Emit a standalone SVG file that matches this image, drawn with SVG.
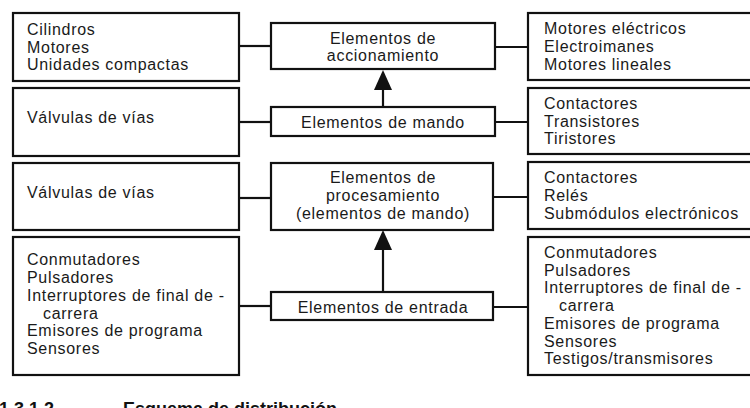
<svg xmlns="http://www.w3.org/2000/svg" width="750" height="408" viewBox="0 0 750 408">
<style>
.box{fill:#fff;stroke:#111;stroke-width:2.2}
.t{font-family:"Liberation Sans",Arial,sans-serif;font-size:16px;letter-spacing:0.7px;fill:#1a1a1a}
.c{text-anchor:middle}
.cap{font-family:"Liberation Sans",Arial,sans-serif;font-size:18px;font-weight:bold;fill:#111}
.ln{stroke:#111;stroke-width:2.2;fill:none}
.ah{fill:#111}
</style>
<rect width="750" height="408" fill="#fff"/>
<g id="connectors">
<line class="ln" x1="239" y1="46" x2="271" y2="46"/>
<line class="ln" x1="239" y1="122" x2="271" y2="122"/>
<line class="ln" x1="239" y1="198" x2="271" y2="198"/>
<line class="ln" x1="239" y1="306" x2="271" y2="306"/>
<line class="ln" x1="495" y1="47" x2="528" y2="47"/>
<line class="ln" x1="495" y1="122" x2="528" y2="122"/>
<line class="ln" x1="493" y1="197" x2="528" y2="197"/>
<line class="ln" x1="493" y1="307" x2="528" y2="307"/>
<line class="ln" x1="383" y1="107" x2="383" y2="88"/>
<polygon class="ah" points="383,70 374,90 392,90"/>
<line class="ln" x1="383" y1="292" x2="383" y2="248"/>
<polygon class="ah" points="383,230 374,250 392,250"/>
</g>
<g id="left1"><rect class="box" x="13" y="13" width="226" height="68"/>
<text class="t" x="27" y="35">Cilindros</text><text class="t" x="27" y="52.5">Motores</text><text class="t" x="27" y="70">Unidades compactas</text></g>
<g id="left2"><rect class="box" x="13" y="88" width="226" height="68"/>
<text class="t" x="27" y="123">Válvulas de vías</text></g>
<g id="left3"><rect class="box" x="13" y="163" width="226" height="67"/>
<text class="t" x="27" y="198">Válvulas de vías</text></g>
<g id="left4"><rect class="box" x="13" y="237" width="226" height="138"/>
<text class="t" x="27" y="265">Conmutadores</text><text class="t" x="27" y="283">Pulsadores</text><text class="t" x="27" y="301">Interruptores de final de -</text><text class="t" x="43" y="318.5">carrera</text><text class="t" x="27" y="336">Emisores de programa</text><text class="t" x="27" y="354">Sensores</text></g>
<g id="center1"><rect class="box" x="271" y="23" width="224" height="46"/>
<text class="t c" x="383" y="44">Elementos de</text><text class="t c" x="383" y="61">accionamiento</text></g>
<g id="center2"><rect class="box" x="271" y="107" width="224" height="29"/>
<text class="t c" x="383" y="128">Elementos de mando</text></g>
<g id="center3"><rect class="box" x="271" y="163" width="222" height="67"/>
<text class="t c" x="383" y="183">Elementos de</text><text class="t c" x="383" y="201">procesamiento</text><text class="t c" x="383" y="219">(elementos de mando)</text></g>
<g id="center4"><rect class="box" x="271" y="292" width="222" height="28"/>
<text class="t c" x="383" y="313">Elementos de entrada</text></g>
<g id="right1"><rect class="box" x="528" y="13" width="232" height="67"/>
<text class="t" x="544" y="34">Motores eléctricos</text><text class="t" x="544" y="52">Electroimanes</text><text class="t" x="544" y="69.5">Motores lineales</text></g>
<g id="right2"><rect class="box" x="528" y="88" width="232" height="66"/>
<text class="t" x="544" y="109">Contactores</text><text class="t" x="544" y="126.5">Transistores</text><text class="t" x="544" y="144">Tiristores</text></g>
<g id="right3"><rect class="box" x="528" y="162" width="232" height="67"/>
<text class="t" x="544" y="183">Contactores</text><text class="t" x="544" y="201">Relés</text><text class="t" x="544" y="218.5">Submódulos electrónicos</text></g>
<g id="right4"><rect class="box" x="528" y="237" width="232" height="138"/>
<text class="t" x="544" y="258">Conmutadores</text><text class="t" x="544" y="275.5">Pulsadores</text><text class="t" x="544" y="293">Interruptores de final de -</text><text class="t" x="559" y="311">carrera</text><text class="t" x="544" y="329">Emisores de programa</text><text class="t" x="544" y="346.5">Sensores</text><text class="t" x="544" y="364">Testigos/transmisores</text></g>
<g id="caption"><text class="cap" x="-1" y="415">1.3.1.2</text><text class="cap" x="123" y="415">Esquema de distribución</text></g>
</svg>
